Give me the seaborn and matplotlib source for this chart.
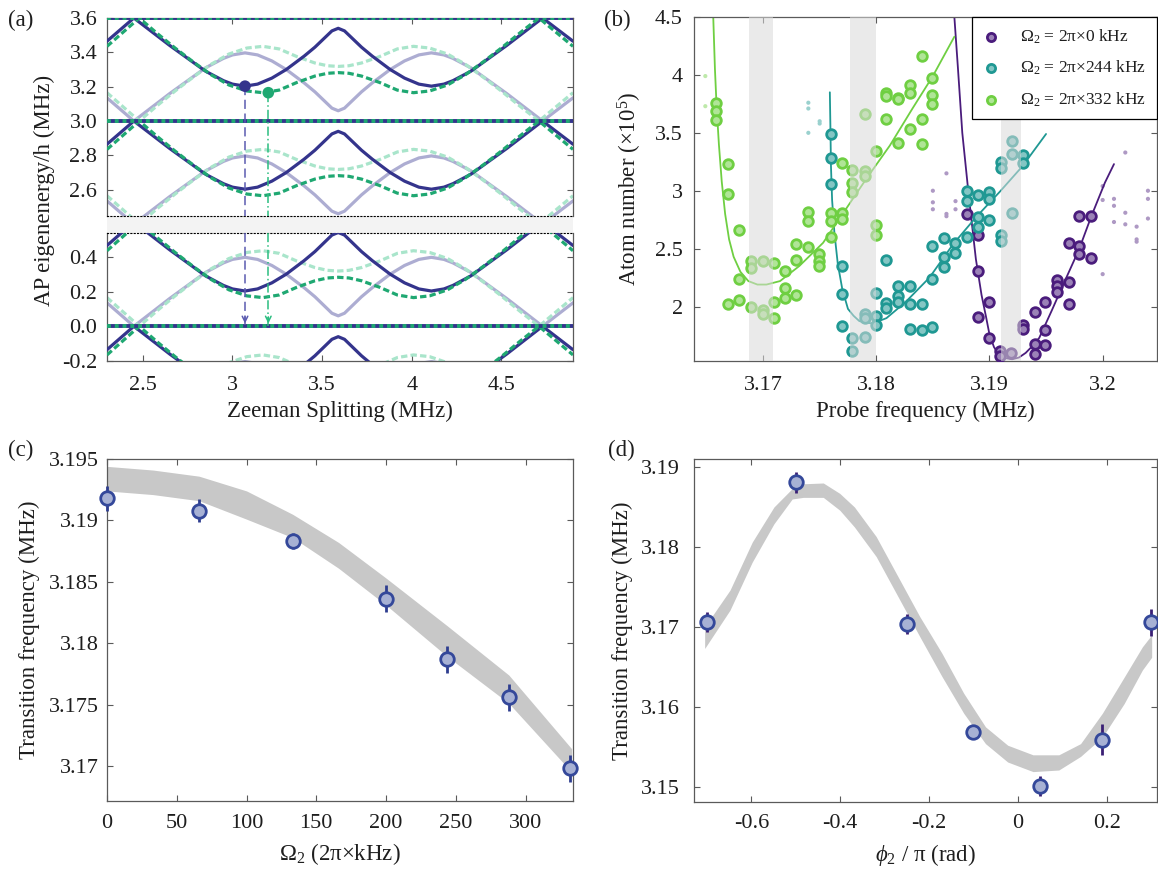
import numpy as np
import matplotlib
matplotlib.use("Agg")
import matplotlib.pyplot as plt
import seaborn as sns
from matplotlib.patches import Rectangle

# ---------------- panel (a): one Floquet zone (3.0-3.6 MHz), repeated every 0.6 MHz
a_x_blue = [2.30, 2.45, 2.55, 2.65, 2.75, 2.85, 2.95, 3.00, 3.07, 3.14, 3.22, 3.30, 3.40,
            3.46, 3.52, 3.555, 3.59, 3.625, 3.66, 3.72, 3.78, 3.88, 3.96, 4.04, 4.11,
            4.18, 4.23, 4.33, 4.43, 4.53, 4.63, 4.73, 4.90]
a_e_blue = [3.465, 3.600, 3.520, 3.440, 3.365, 3.290, 3.235, 3.215, 3.203, 3.215, 3.250,
            3.300, 3.378, 3.430, 3.490, 3.525, 3.540, 3.525, 3.490, 3.430, 3.378, 3.300,
            3.250, 3.215, 3.203, 3.215, 3.235, 3.290, 3.365, 3.440, 3.520, 3.600, 3.465]
a_x_lav = a_x_blue
a_e_lav = [3.135, 3.000, 3.080, 3.160, 3.235, 3.310, 3.365, 3.385, 3.397, 3.385, 3.350,
           3.300, 3.222, 3.170, 3.110, 3.075, 3.060, 3.075, 3.110, 3.170, 3.222, 3.300,
           3.350, 3.385, 3.397, 3.385, 3.365, 3.310, 3.235, 3.160, 3.080, 3.000, 3.135]
a_x_dgreen = [2.30, 2.48, 2.58, 2.68, 2.78, 2.88, 2.98, 3.08, 3.17, 3.26, 3.36, 3.46, 3.53,
              3.59, 3.65, 3.72, 3.82, 3.92, 4.01, 4.10, 4.20, 4.30, 4.40, 4.50, 4.60, 4.71, 4.90]
a_e_dgreen = [3.435, 3.600, 3.510, 3.425, 3.345, 3.270, 3.210, 3.175, 3.165, 3.180, 3.225,
              3.262, 3.278, 3.282, 3.278, 3.262, 3.225, 3.180, 3.165, 3.175, 3.210, 3.270,
              3.345, 3.425, 3.510, 3.600, 3.435]
a_x_lgreen = a_x_dgreen
a_e_lgreen = [3.165, 3.000, 3.090, 3.175, 3.255, 3.330, 3.390, 3.425, 3.435, 3.420, 3.375,
              3.338, 3.322, 3.318, 3.322, 3.338, 3.375, 3.420, 3.435, 3.425, 3.390, 3.330,
              3.255, 3.175, 3.090, 3.000, 3.165]
a_zone_edge = 3.6
a_zone_shifts = [0.0, -0.6, -3.0, -3.6]
a_marker_x = [3.07, 3.20]
a_marker_e = [3.203, 3.165]
a_arrow_target = 0.0
a_xticks = [2.5, 3, 3.5, 4, 4.5]
a_xticklabels = ["2.5", "3", "3.5", "4", "4.5"]
a_yticks_top = [2.6, 2.8, 3.0, 3.2, 3.4, 3.6]
a_yticklabels_top = ["2.6", "2.8", "3.0", "3.2", "3.4", "3.6"]
a_yticks_bot = [-0.2, 0.0, 0.2, 0.4]
a_yticklabels_bot = ["-0.2", "0.0", "0.2", "0.4"]

# ---------------- panel (b)
b_x_332 = [3.1658, 3.1658, 3.1658, 3.1669, 3.1669, 3.1679, 3.1679, 3.1669, 3.1679, 3.1689,
           3.1689, 3.1689, 3.1700, 3.1700, 3.1700, 3.1710, 3.1710, 3.1710, 3.1719, 3.1719,
           3.1719, 3.1729, 3.1729, 3.1729, 3.1740, 3.1740, 3.1740, 3.1749, 3.1749, 3.1749,
           3.1760, 3.1760, 3.1760, 3.1770, 3.1770, 3.1770, 3.1779, 3.1779, 3.1779, 3.1790,
           3.1790, 3.1790, 3.1800, 3.1800, 3.1800, 3.1809, 3.1809, 3.1809, 3.1819, 3.1819,
           3.1819, 3.1830, 3.1830, 3.1830, 3.1840, 3.1840, 3.1840, 3.1849, 3.1849, 3.1849]
b_y_332 = [3.76, 3.69, 3.61, 3.23, 2.97, 2.66, 2.24, 2.02, 2.06, 2.39, 2.33, 2.00, 2.39, 1.97,
           1.94, 2.38, 2.04, 1.90, 2.31, 2.16, 2.07, 2.54, 2.40, 2.10, 2.82, 2.74, 2.51, 2.45,
           2.39, 2.35, 2.81, 2.74, 2.60, 3.24, 2.81, 2.76, 3.18, 3.07, 2.99, 3.66, 3.17, 3.13,
           3.34, 2.70, 2.62, 3.84, 3.82, 3.62, 3.80, 3.79, 3.41, 3.91, 3.84, 3.53, 4.16, 3.62,
           3.40, 3.97, 3.83, 3.75]
b_x_244 = [3.1760, 3.1760, 3.1760, 3.1770, 3.1770, 3.1770, 3.1779, 3.1779, 3.1790, 3.1790,
           3.1790, 3.1800, 3.1800, 3.1800, 3.1809, 3.1809, 3.1809, 3.1819, 3.1819, 3.1819,
           3.1830, 3.1830, 3.1830, 3.1840, 3.1840, 3.1849, 3.1849, 3.1849, 3.1860, 3.1860,
           3.1860, 3.1870, 3.1870, 3.1880, 3.1880, 3.1880, 3.1890, 3.1890, 3.1890, 3.1900,
           3.1900, 3.1900, 3.1910, 3.1910, 3.1910, 3.1910, 3.1920, 3.1920, 3.1920, 3.1930, 3.1930]
b_y_244 = [3.49, 3.28, 3.06, 2.35, 2.11, 1.83, 1.73, 1.62, 1.94, 1.90, 1.74, 2.12, 1.92, 1.84,
           2.40, 2.03, 1.99, 2.18, 2.09, 2.04, 2.18, 2.02, 1.81, 2.02, 1.80, 2.52, 2.24, 1.82,
           2.59, 2.43, 2.34, 2.55, 2.46, 3.00, 2.91, 2.60, 2.96, 2.77, 2.69, 2.99, 2.93, 2.75,
           3.25, 3.20, 2.62, 2.57, 3.43, 3.32, 2.81, 3.31, 3.24]
b_x_0 = [3.1880, 3.1890, 3.1890, 3.1890, 3.1900, 3.1900, 3.1909, 3.1909, 3.1919, 3.1930,
         3.1930, 3.1940, 3.1940, 3.1940, 3.1949, 3.1949, 3.1949, 3.1960, 3.1960, 3.1960,
         3.1970, 3.1970, 3.1970, 3.1979, 3.1979, 3.1979, 3.1990, 3.1990]
b_y_0 = [2.80, 2.62, 2.31, 1.91, 2.04, 1.73, 1.62, 1.57, 1.60, 1.84, 1.81, 1.95, 1.68, 1.59,
         2.04, 1.80, 1.67, 2.23, 2.18, 2.13, 2.55, 2.21, 2.02, 2.78, 2.52, 2.45, 2.78, 2.42]
# excluded (faint) shots
b_xo_332 = [3.1649, 3.1649]
b_yo_332 = [3.99, 3.73]
b_xo_244 = [3.1740, 3.1740, 3.1740, 3.1750, 3.1750]
b_yo_244 = [3.76, 3.71, 3.50, 3.60, 3.58]
b_xo_0 = [3.1850, 3.1850, 3.1850, 3.1862, 3.1862, 3.1862, 3.1870, 3.1870, 3.2000, 3.2000,
          3.2000, 3.2010, 3.2010, 3.2010, 3.2020, 3.2020, 3.2020, 3.2030, 3.2030, 3.2030,
          3.2040, 3.2040, 3.2040]
b_yo_0 = [3.00, 2.90, 2.84, 3.15, 2.80, 2.78, 2.91, 2.84, 3.04, 2.92, 2.28, 2.93, 2.87, 2.73,
          3.33, 2.81, 2.71, 2.69, 2.58, 2.56, 3.00, 2.93, 2.76]
# fitted line shapes
b_fx_332 = [3.16560, 3.16575, 3.16590, 3.16610, 3.16635, 3.16665, 3.16700, 3.16740, 3.16800,
            3.16870, 3.16950, 3.17030, 3.17150, 3.17320, 3.17530, 3.17710, 3.17910, 3.18120,
            3.18320, 3.18500, 3.18690]
b_fy_332 = [4.50, 4.05, 3.72, 3.40, 3.08, 2.80, 2.58, 2.43, 2.30, 2.22, 2.19, 2.19, 2.22,
            2.35, 2.55, 2.81, 3.10, 3.39, 3.71, 3.99, 4.33]
b_fx_244 = [3.17590, 3.17595, 3.17600, 3.17610, 3.17630, 3.17660, 3.17700, 3.17750, 3.17800,
            3.17850, 3.17910, 3.17970, 3.18090, 3.18260, 3.18470, 3.18680, 3.18880, 3.19090,
            3.19290, 3.19500]
b_fy_244 = [3.85, 3.55, 3.21, 2.92, 2.64, 2.37, 2.15, 1.98, 1.92, 1.875, 1.86, 1.855, 1.90,
            2.04, 2.25, 2.54, 2.77, 2.99, 3.21, 3.49]
b_fx_0 = [3.1869, 3.1872, 3.1876, 3.1882, 3.1888, 3.1893, 3.1897, 3.1900, 3.1904, 3.1908,
          3.1914, 3.1920, 3.1926, 3.1932, 3.1938, 3.1944, 3.1955, 3.1967, 3.1979, 3.1990,
          3.2002, 3.2010]
b_fy_0 = [4.50, 4.08, 3.50, 2.93, 2.41, 2.10, 1.91, 1.76, 1.65, 1.59, 1.555, 1.545, 1.56,
          1.60, 1.66, 1.73, 1.965, 2.23, 2.49, 2.78, 3.07, 3.23]
b_band_lo = [3.1688, 3.1777, 3.1910]
b_band_hi = [3.1709, 3.1800, 3.1928]
b_labels = [r"$\Omega_2$ = 2π×0 kHz", r"$\Omega_2$ = 2π×244 kHz", r"$\Omega_2$ = 2π×332 kHz"]
b_xticks = [3.17, 3.18, 3.19, 3.2]
b_xticklabels = ["3.17", "3.18", "3.19", "3.2"]
b_yticks = [2, 2.5, 3, 3.5, 4, 4.5]
b_yticklabels = ["2", "2.5", "3", "3.5", "4", "4.5"]

# ---------------- panel (c)
c_omega = [0, 66, 133, 200, 244, 288, 332]
c_freq = [3.1918, 3.1908, 3.1883, 3.1836, 3.1787, 3.1756, 3.1698]
c_err = [0.0010, 0.00095, 0.00065, 0.0011, 0.0011, 0.0011, 0.0011]
c_band_x = [0, 33, 66, 100, 133, 166, 200, 244, 288, 333]
c_band_hi = [3.1944, 3.1941, 3.1936, 3.1924, 3.1905, 3.1882, 3.1853, 3.1814, 3.1774, 3.1714]
c_band_lo = [3.1924, 3.1921, 3.1916, 3.1901, 3.1886, 3.1861, 3.1831, 3.1789, 3.1751, 3.1695]
c_xticks = [0, 50, 100, 150, 200, 250, 300]
c_yticks = [3.17, 3.175, 3.18, 3.185, 3.19, 3.195]
c_yticklabels = ["3.17", "3.175", "3.18", "3.185", "3.19", "3.195"]

# ---------------- panel (d)
d_phi = [-0.70, -0.50, -0.25, -0.10, 0.05, 0.19, 0.30]
d_freq = [3.1706, 3.1881, 3.1704, 3.1568, 3.1501, 3.1559, 3.1706]
d_err = [0.00125, 0.0013, 0.00125, 0.0005, 0.0012, 0.0019, 0.0017]
d_band_x = [-0.705, -0.648, -0.598, -0.549, -0.508, -0.483, -0.438, -0.401, -0.368, -0.319,
            -0.270, -0.221, -0.171, -0.122, -0.073, -0.023, 0.034, 0.092, 0.141, 0.190,
            0.239, 0.280, 0.301]
d_band_hi = [3.1700, 3.1746, 3.1806, 3.1850, 3.1873, 3.1879, 3.1880, 3.1867, 3.1850, 3.1813,
             3.1763, 3.1713, 3.1667, 3.1617, 3.1575, 3.1552, 3.1540, 3.1540, 3.1554, 3.1592,
             3.1637, 3.1675, 3.1690]
d_band_lo = [3.1673, 3.1721, 3.1781, 3.1829, 3.1860, 3.1862, 3.1862, 3.1846, 3.1825, 3.1788,
             3.1738, 3.1688, 3.1638, 3.1592, 3.1554, 3.1531, 3.1519, 3.1521, 3.1538, 3.1562,
             3.1604, 3.1646, 3.1662]
d_xticks = [-0.6, -0.4, -0.2, 0, 0.2]
d_xticklabels = ["-0.6", "-0.4", "-0.2", "0", "0.2"]
d_yticks = [3.15, 3.16, 3.17, 3.18, 3.19]
d_yticklabels = ["3.15", "3.16", "3.17", "3.18", "3.19"]

# ---------------- style
sns.set_theme(style="ticks")
TXT = "#1e1e1e"
SP = "#5a5a5a"
plt.rcParams.update({
    "font.family": ["Liberation Serif", "DejaVu Serif"],
    "mathtext.fontset": "custom",
    "mathtext.rm": "Liberation Serif",
    "mathtext.it": "Liberation Serif:italic",
    "mathtext.bf": "Liberation Serif:bold",
    "axes.unicode_minus": False,
    "xtick.direction": "in", "ytick.direction": "in",
    "xtick.top": True, "ytick.right": True,
    "xtick.major.size": 4.5, "ytick.major.size": 4.5,
    "xtick.major.width": 0.8, "ytick.major.width": 0.8,
    "xtick.color": SP, "ytick.color": SP,
    "xtick.labelcolor": TXT, "ytick.labelcolor": TXT,
    "axes.edgecolor": SP, "axes.linewidth": 0.9,
    "axes.labelcolor": TXT, "text.color": TXT,
    "xtick.labelsize": 16, "ytick.labelsize": 16, "axes.labelsize": 16.5,
})

W, H = 1158, 877
fig = plt.figure(figsize=(W / 100, H / 100), dpi=100)
fig.patch.set_facecolor("white")


def box(l, t, r, b):
    return [l / W, 1 - b / H, (r - l) / W, (b - t) / H]


BLUE = "#34348c"
LAV = "#adadd2"
DGREEN = "#1fa872"
LGREEN = "#a9e5cb"

# ---------------- (a)
ax_at = fig.add_axes(box(107, 18, 573, 216))
ax_ab = fig.add_axes(box(107, 233, 573, 361))
fig.add_artist(Rectangle((107 / W, 1 - 233 / H), 466 / W, 17 / H,
                         transform=fig.transFigure, color="#f3f3f3", lw=0, zorder=0))
curves = [
    (a_x_lav, a_e_lav, dict(color=LAV, lw=2.3), 1),
    (a_x_lgreen, a_e_lgreen, dict(color=LGREEN, lw=2.3, dashes=(2.0, 1.0)), 2),
    (a_x_blue, a_e_blue, dict(color=BLUE, lw=2.3), 3),
    (a_x_dgreen, a_e_dgreen, dict(color=DGREEN, lw=2.3, dashes=(2.0, 1.0)), 4),
]
for ax in (ax_at, ax_ab):
    for s in a_zone_shifts:
        for xs, es, kw, z in curves:
            ax.plot(xs, np.asarray(es) + s, zorder=z, **kw)
        ax.axhline(a_zone_edge + s, color=BLUE, lw=2.8, zorder=5)
        ax.axhline(a_zone_edge + s, color=DGREEN, lw=2.8, dashes=(1.0, 1.0), zorder=6)
    ax.set_xlim(2.3, 4.9)
    ax.set_xticks(a_xticks)
ax_at.set_ylim(2.447, 3.6)
ax_ab.set_ylim(-0.2, 0.537)
ax_at.set_yticks(a_yticks_top, a_yticklabels_top)
ax_ab.set_yticks(a_yticks_bot, a_yticklabels_bot)
ax_ab.set_xticklabels(a_xticklabels)
ax_at.tick_params(axis="x", bottom=False, labelbottom=False)
ax_ab.tick_params(axis="x", top=False, pad=11)
ax_at.tick_params(axis="y", pad=7)
ax_ab.tick_params(axis="y", pad=7)
ax_at.spines["bottom"].set(linestyle=(0, (1, 2)), color="black", lw=0.8)
ax_ab.spines["top"].set(linestyle=(0, (1, 2)), color="black", lw=0.8)
for ax in (ax_at, ax_ab):
    ax.set_facecolor("none")

drop_cols = ["#5b5bb0", "#2bbd80"]
drop_styles = [(0, (6, 3)), (0, (6, 2, 1, 2))]
for xm, em, col, ls in zip(a_marker_x, a_marker_e, drop_cols, drop_styles):
    ax_at.plot([xm, xm], [em, ax_at.get_ylim()[0]], color=col, lw=1.1, ls=ls, zorder=7)
    ax_ab.plot([xm, xm], [ax_ab.get_ylim()[1], a_arrow_target], color=col, lw=1.1, ls=ls, zorder=7)
    ax_ab.annotate("", xy=(xm, a_arrow_target), xytext=(xm, a_arrow_target + 0.07),
                   arrowprops=dict(arrowstyle="->", color=col, lw=1.1, mutation_scale=10),
                   zorder=8)
sns.scatterplot(x=a_marker_x, y=a_marker_e, hue=[0, 1], palette=[BLUE, DGREEN], s=70,
                edgecolor="none", legend=False, ax=ax_at, zorder=9)
ax_ab.set_xlabel("Zeeman Splitting (MHz)", labelpad=4)
ax_at.set_ylabel("")
ax_ab.set_ylabel("")
fig.text(44 / W, 1 - 190 / H, "AP eigenenergy/h (MHz)", rotation=90, ha="center",
         va="center", fontsize=16.5)

# ---------------- (b)
ax_b = fig.add_axes(box(694, 17, 1157, 361))
PUR = "#4a1c7c"
TEAL = "#1f9893"
GRN = "#6fcf42"


def tint(c, f):
    r, g, b = matplotlib.colors.to_rgb(c)
    return (r + (1 - r) * f, g + (1 - g) * f, b + (1 - b) * f)


series = [
    (b_x_0, b_y_0, b_xo_0, b_yo_0, b_fx_0, b_fy_0, PUR, b_labels[0]),
    (b_x_244, b_y_244, b_xo_244, b_yo_244, b_fx_244, b_fy_244, TEAL, b_labels[1]),
    (b_x_332, b_y_332, b_xo_332, b_yo_332, b_fx_332, b_fy_332, GRN, b_labels[2]),
]
for xs, ys, xo, yo, fx, fy, col, lab in series:
    sns.scatterplot(x=xo, y=yo, color=tint(col, 0.55), s=9, edgecolor="none", ax=ax_b,
                    zorder=2, legend=False)
    sns.lineplot(x=fx, y=fy, sort=False, estimator=None, color=col, lw=1.3, ax=ax_b,
                 zorder=2.5, legend=False)
    sns.scatterplot(x=xs, y=ys, color=tint(col, 0.45), edgecolor=col, linewidth=2.0, s=48,
                    ax=ax_b, zorder=3, label=lab)
for lo, hi in zip(b_band_lo, b_band_hi):
    ax_b.axvspan(lo, hi, color="#dadada", alpha=0.55, lw=0, zorder=4)
ax_b.set_xlim(3.1639, 3.2048)
ax_b.set_ylim(1.53, 4.5)
ax_b.set_xticks(b_xticks, b_xticklabels)
ax_b.set_yticks(b_yticks, b_yticklabels)
ax_b.tick_params(axis="x", pad=11)
ax_b.tick_params(axis="y", pad=8)
ax_b.set_xlabel("Probe frequency (MHz)", labelpad=4)
ax_b.set_ylabel("Atom number (×10$^5$)", labelpad=8)
leg = ax_b.legend(loc="upper right", borderaxespad=0, fancybox=False, framealpha=1,
                  edgecolor="black", fontsize=12.5, handletextpad=1.2, handlelength=1.0,
                  labelspacing=0.75, borderpad=0.6, markerscale=0.85)
leg.get_frame().set_linewidth(0.9)
leg.set_zorder(10)

# ---------------- (c)
MFACE = "#a7b1d4"
MEDGE = "#34489a"
ax_c = fig.add_axes(box(107, 459, 573, 801))
ax_c.fill_between(c_band_x, c_band_lo, c_band_hi, color="#c8c8c8", lw=0, zorder=1)
ax_c.errorbar(c_omega, c_freq, yerr=c_err, fmt="none", ecolor="#2e3d8f", elinewidth=2,
              capsize=0, zorder=3, clip_on=False)
sns.scatterplot(x=c_omega, y=c_freq, color=MFACE, edgecolor=MEDGE, linewidth=2, s=95,
                ax=ax_c, zorder=4, legend=False, clip_on=False)
ax_c.set_xlim(0, 334)
ax_c.set_ylim(3.16714, 3.195)
ax_c.set_xticks(c_xticks)
ax_c.set_yticks(c_yticks, c_yticklabels)
ax_c.tick_params(axis="x", pad=9)
ax_c.tick_params(axis="y", pad=6)
ax_c.set_xlabel(r"$\Omega_2$ (2π×kHz)", labelpad=6)
ax_c.set_ylabel("Transition frequency (MHz)", labelpad=6)

# ---------------- (d)
ax_d = fig.add_axes(box(694, 459, 1157, 802))
ax_d.fill_between(d_band_x, d_band_lo, d_band_hi, color="#c8c8c8", lw=0, zorder=1)
ax_d.errorbar(d_phi, d_freq, yerr=d_err, fmt="none", ecolor="#3a1f74", elinewidth=2,
              capsize=0, zorder=3, clip_on=False)
sns.scatterplot(x=d_phi, y=d_freq, color=MFACE, edgecolor=MEDGE, linewidth=2, s=95,
                ax=ax_d, zorder=4, legend=False, clip_on=False)
ax_d.set_xlim(-0.729, 0.313)
ax_d.set_ylim(3.1481, 3.191)
ax_d.set_xticks(d_xticks, d_xticklabels)
ax_d.set_yticks(d_yticks, d_yticklabels)
ax_d.tick_params(axis="x", pad=9)
ax_d.tick_params(axis="y", pad=10)
ax_d.set_xlabel(r"$\phi_2$ / π (rad)", labelpad=6)
ax_d.set_ylabel("Transition frequency (MHz)", labelpad=6)

# panel letters
for lx, ly, t in [(8, 20, "(a)"), (604, 20, "(b)"), (8, 450, "(c)"), (608, 450, "(d)")]:
    fig.text(lx / W, 1 - ly / H, t, fontsize=16.5, ha="left", va="center")

fig.savefig("out.png", dpi=100)
